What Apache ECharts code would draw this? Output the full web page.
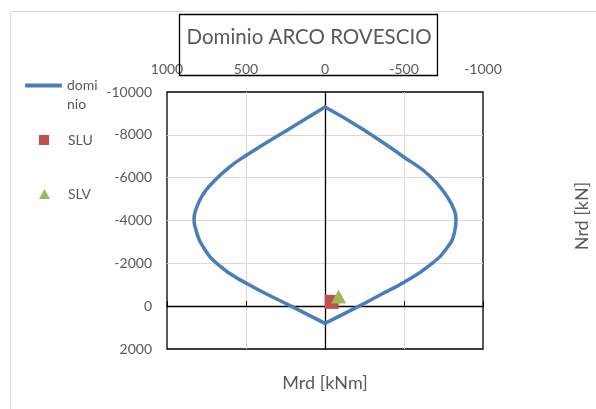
<!DOCTYPE html>
<html>
<head>
<meta charset="utf-8">
<script src="https://cdn.jsdelivr.net/npm/echarts@6/dist/echarts.min.js"></script>
<style>
  html, body { margin: 0; padding: 0; background: #fff; }
  #chart { width: 596px; height: 409px; }
</style>
</head>
<body>
<div id="chart"></div>
<script>
// ---- Data ----
const titleText = 'Dominio ARCO ROVESCIO';
const xName = 'Mrd [kNm]';
const yName = 'Nrd [kN]';
const seriesNames = ['dominio', 'SLU', 'SLV'];

// interaction domain, left branch (top vertex -> bottom vertex): Mrd (kNm), Nrd (kN)
const leftM = [0, 230, 495, 607, 713, 777, 819, 829, 819, 777, 671, 495, 215, 0];
const leftN = [-9300, -8265, -7056, -6480, -5753, -5163, -4465, -4050, -3614, -2837, -1907, -1056, 0, 805];
// right branch (bottom vertex -> top vertex)
const rightM = [0, -215, -345, -503, -662, -768, -820, -829, -820, -768, -662, -503, -239, 0];
const rightN = [805, 0, -512, -1130, -1907, -2684, -3456, -4050, -4450, -5163, -6093, -6944, -8265, -9300];

const sluM = [-43];
const sluN = [-200];
const slvM = [-86];
const slvN = [-450];

const xMin = -1000, xMax = 1000, xStep = 500;
const yMin = -10000, yMax = 2000, yStep = 2000;

// ---- Chart ----
const FONT = 'Lato';
const TXT = '#595959';
const BLUE = '#4a7ebb';
const pairs = (a, b) => a.map((v, i) => [v, b[i]]);

const chart = echarts.init(document.getElementById('chart'), null, { renderer: 'canvas' });

const lineSeries = (data) => ({
  name: seriesNames[0], type: 'line', data,
  xAxisIndex: 0, yAxisIndex: 0,
  symbol: 'none', smooth: 0.5, z: 3,
  lineStyle: { color: BLUE, width: 3.5, cap: 'round', join: 'round' },
  itemStyle: { color: BLUE }
});

const option = {
  animation: false,
  backgroundColor: '#fff',
  title: {
    text: titleText,
    left: 309,
    top: 27,
    textAlign: 'center',
    padding: 0,
    textStyle: { fontFamily: FONT, fontSize: 20.5, fontWeight: 'normal', color: TXT }
  },
  grid: {
    left: 167, top: 92, width: 316, height: 257,
    show: true, borderColor: '#000', borderWidth: 1.3, backgroundColor: 'transparent'
  },
  legend: [
    {
      data: [{ name: seriesNames[0], icon: 'roundRect' }], orient: 'vertical', left: 25, top: 57, padding: 0,
      itemWidth: 37, itemHeight: 4,
      formatter: (n) => '\n' + n,
      textStyle: { fontFamily: FONT, fontSize: 14, color: TXT, width: 32, overflow: 'breakAll', lineHeight: 19 }
    },
    {
      data: [{ name: seriesNames[1], icon: 'rect' }], orient: 'vertical', left: 39, top: 133, padding: 0,
      itemWidth: 10, itemHeight: 10,
      textStyle: { fontFamily: FONT, fontSize: 14, color: TXT, padding: [0, 0, 0, 14] }
    },
    {
      data: [{ name: seriesNames[2], icon: 'triangle' }], orient: 'vertical', left: 39, top: 187, padding: 0,
      itemWidth: 11, itemHeight: 10,
      textStyle: { fontFamily: FONT, fontSize: 14, color: TXT, padding: [0, 0, 0, 13] }
    }
  ],
  xAxis: [
    {
      type: 'value', min: xMin, max: xMax, interval: xStep, inverse: true, position: 'top',
      axisLine: { show: false, onZero: false }, axisTick: { show: false },
      axisLabel: { margin: 16, color: TXT, fontFamily: FONT, fontSize: 14, formatter: (v) => String(v) },
      splitLine: { show: true, showMinLine: false, showMaxLine: false, lineStyle: { color: '#d9d9d9', width: 1 } }
    },
    {
      type: 'value', min: xMin, max: xMax, interval: xStep, inverse: true, position: 'bottom',
      axisLine: { show: true, onZero: true, onZeroAxisIndex: 0, lineStyle: { color: '#000', width: 1.3 } },
      axisTick: { show: true, inside: true, length: 5, lineStyle: { color: '#000', width: 1 } },
      axisLabel: { show: false }, splitLine: { show: false }
    }
  ],
  yAxis: [
    {
      type: 'value', min: yMin, max: yMax, interval: yStep, inverse: true, position: 'left',
      axisLine: { show: false, onZero: false }, axisTick: { show: false },
      axisLabel: { margin: 15, color: TXT, fontFamily: FONT, fontSize: 14, formatter: (v) => String(v) },
      splitLine: { show: true, showMinLine: false, showMaxLine: false, lineStyle: { color: '#d9d9d9', width: 1 } }
    },
    {
      type: 'value', min: yMin, max: yMax, interval: yStep, inverse: true, position: 'right',
      axisLine: { show: true, onZero: true, onZeroAxisIndex: 0, lineStyle: { color: '#000', width: 1.3 } },
      axisTick: { show: false }, axisLabel: { show: false }, splitLine: { show: false }
    }
  ],
  graphic: [
    { type: 'rect', silent: true, z: -10, shape: { x: 10.5, y: 11.5, width: 700, height: 500 }, style: { fill: 'none', stroke: '#d9d9d9', lineWidth: 1 } },
    { type: 'rect', silent: true, z: 5, shape: { x: 179.5, y: 14.5, width: 258, height: 61 }, style: { fill: 'none', stroke: '#000', lineWidth: 1.3 } },
    { type: 'text', silent: true, x: 325, y: 383, style: { text: xName, fontFamily: FONT, fontSize: 18, fill: TXT, align: 'center', verticalAlign: 'middle' } },
    { type: 'text', silent: true, x: 582, y: 216, rotation: Math.PI / 2, style: { text: yName, fontFamily: FONT, fontSize: 18, fill: TXT, align: 'center', verticalAlign: 'middle' } }
  ],
  series: [
    lineSeries(pairs(leftM, leftN)),
    lineSeries(pairs(rightM, rightN)),
    {
      name: seriesNames[1], type: 'scatter', data: pairs(sluM, sluN),
      xAxisIndex: 0, yAxisIndex: 0,
      symbol: 'rect', symbolSize: 14, z: 4,
      itemStyle: { color: '#c0504d', opacity: 1 }
    },
    {
      name: seriesNames[2], type: 'scatter', data: pairs(slvM, slvN),
      xAxisIndex: 0, yAxisIndex: 0,
      symbol: 'triangle', symbolSize: [15, 14], z: 5,
      itemStyle: { color: '#9bbb59', opacity: 1 }
    }
  ]
};
chart.setOption(option);
</script>
</body>
</html>
